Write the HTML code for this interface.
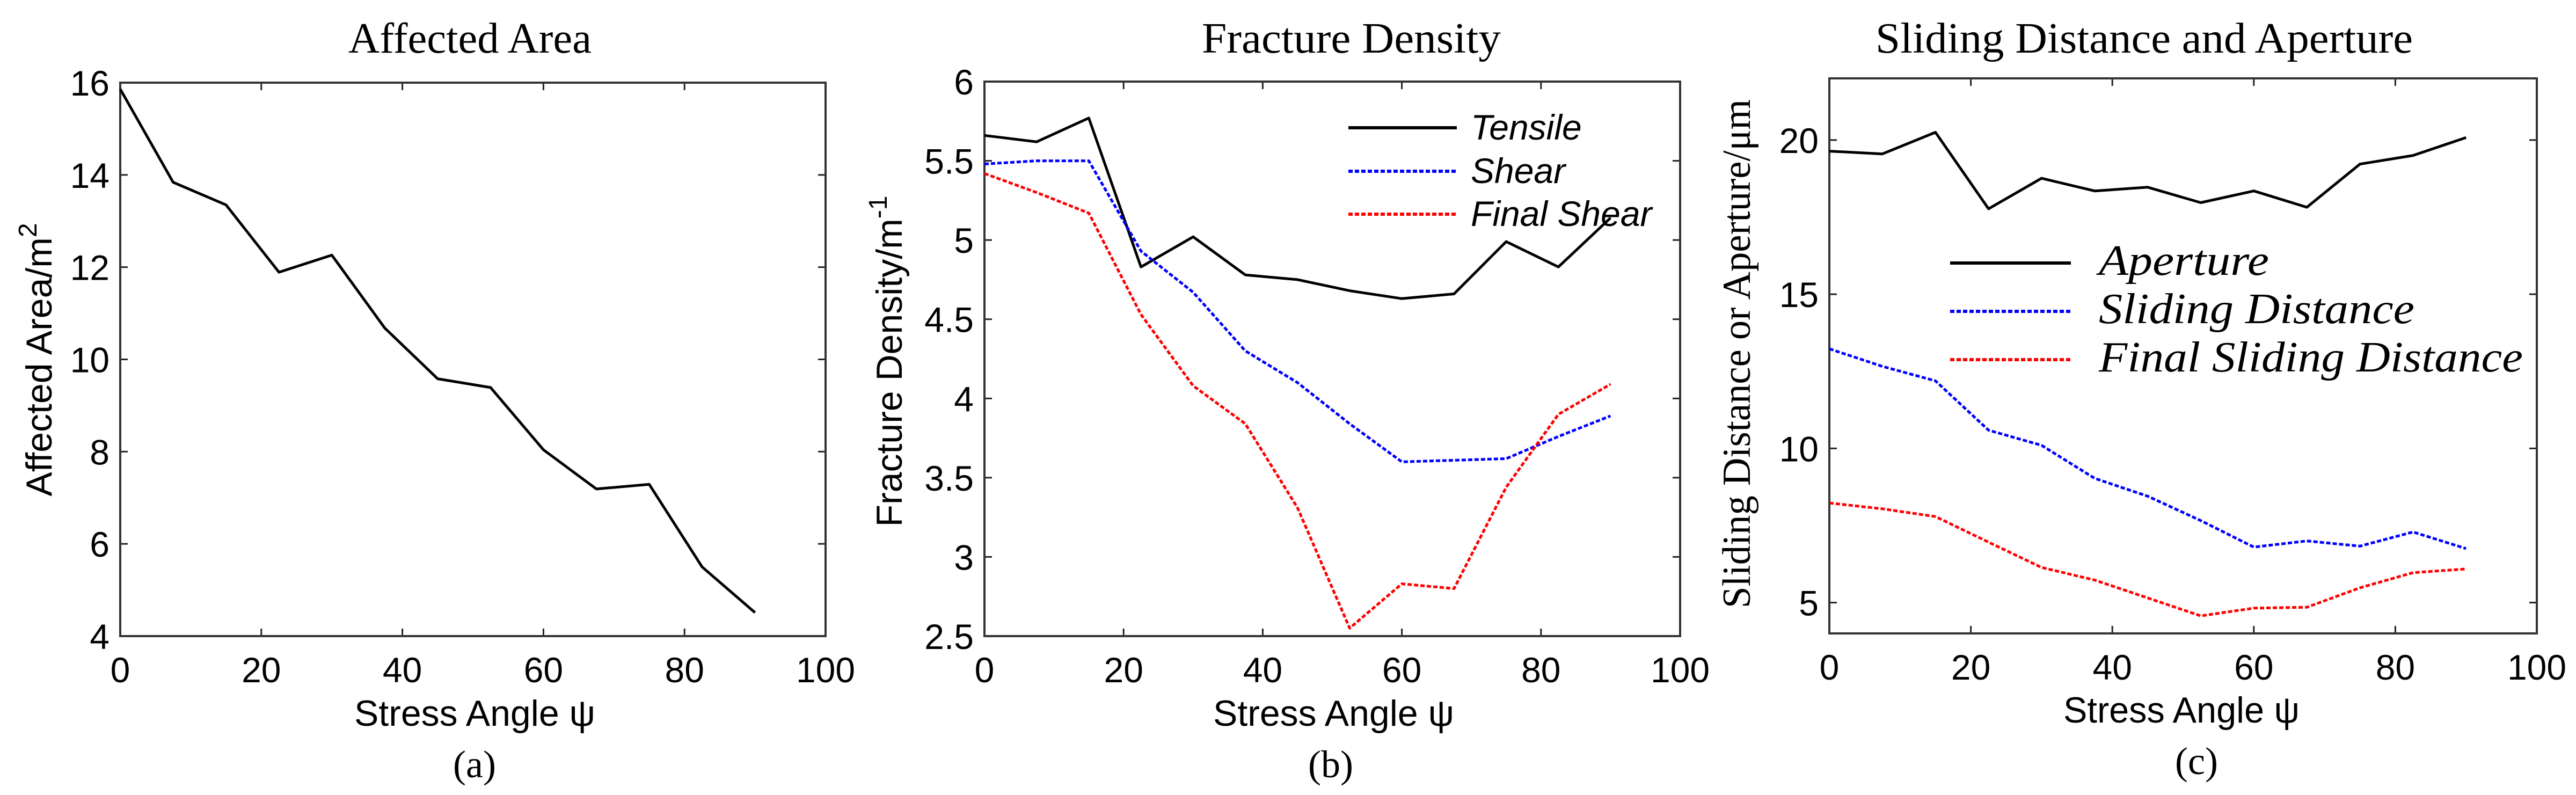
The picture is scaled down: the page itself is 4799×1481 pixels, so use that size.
<!DOCTYPE html>
<html><head><meta charset="utf-8">
<style>
html,body{margin:0;padding:0;background:#fff;}
svg{display:block;}
.tk{font-family:"Liberation Sans",Arial,sans-serif;font-size:66px;fill:#000;}
.ser{font-family:"Liberation Serif","DejaVu Serif",serif;fill:#000;}
</style></head>
<body>
<svg id="fig" xmlns="http://www.w3.org/2000/svg" width="4799" height="1481" viewBox="0 0 4799 1481"></svg>
<script>
// ---- data ----
const angles = [0,7.5,15,22.5,30,37.5,45,52.5,60,67.5,75,82.5,90];
const xTicks = [0,20,40,60,80,100];
const affectedArea = [15.86,13.84,13.35,11.89,12.26,10.68,9.58,9.39,8.04,7.19,7.29,5.5,4.51];
const areaTicks = [4,6,8,10,12,14,16];
const tensile = [5.66,5.62,5.77,4.83,5.02,4.78,4.75,4.68,4.63,4.66,4.99,4.83,5.14];
const shear = [5.48,5.50,5.50,4.93,4.67,4.30,4.10,3.84,3.60,3.61,3.62,3.76,3.89];
const finalShear = [5.42,5.30,5.17,4.53,4.08,3.84,3.31,2.55,2.83,2.80,3.44,3.90,4.09];
const densityTicks = [2.5,3,3.5,4,4.5,5,5.5,6];
const aperture = [19.64,19.55,20.25,17.77,18.76,18.35,18.47,17.97,18.35,17.82,19.22,19.50,20.08];
const sliding = [13.23,12.66,12.19,10.59,10.10,9.03,8.45,7.66,6.80,7.00,6.83,7.29,6.75];
const finalSliding = [8.23,8.04,7.79,6.96,6.14,5.73,5.15,4.57,4.82,4.85,5.48,5.97,6.09];
const slidingTicks = [5,10,15,20];

const NS="http://www.w3.org/2000/svg";
const svg=document.getElementById('fig');
function mk(tag,attrs,parent){const e=document.createElementNS(NS,tag);for(const k in attrs)e.setAttribute(k,attrs[k]);(parent||svg).appendChild(e);return e;}

function panel(o){
  const g=mk('g',{});
  
  
  const sx=v=>o.L+(v-o.xmin)/(o.xmax-o.xmin)*(o.R-o.L);
  const sy=v=>o.B-(v-o.ymin)/(o.ymax-o.ymin)*(o.B-o.T);
  xTicks.forEach(t=>{
    const x=sx(t);
    mk('line',{x1:x,x2:x,y1:o.B,y2:o.B-14,stroke:'#222','stroke-width':3},g);
    mk('line',{x1:x,x2:x,y1:o.T,y2:o.T+14,stroke:'#222','stroke-width':3},g);
    const tx=mk('text',{x:x,y:o.B+86,'text-anchor':'middle',class:'tk'},g);
    tx.textContent=t;
    
    
  });
  o.yticks.forEach(t=>{
    const y=sy(t);
    mk('line',{x1:o.L,x2:o.L+14,y1:y,y2:y,stroke:'#222','stroke-width':3},g);
    mk('line',{x1:o.R,x2:o.R-14,y1:y,y2:y,stroke:'#222','stroke-width':3},g);
    const tx=mk('text',{x:o.L-20,y:y+24,'text-anchor':'end',class:'tk'},g);
    tx.textContent=t;
    
    
  });
  const box=mk('rect',{x:o.L,y:o.T,width:o.R-o.L,height:o.B-o.T,fill:'none',stroke:'#333','stroke-width':4},g);
  
  
  o.series.forEach(s=>{
    const pts=angles.map((a,i)=>sx(a).toFixed(1)+','+sy(s.data[i]).toFixed(1)).join(' ');
    const p=mk('polyline',{points:pts,fill:'none',stroke:s.color,'stroke-width':5,'stroke-linejoin':'round'},g);
    if(s.dash)p.setAttribute('stroke-dasharray',s.dash);
    
    
  });
  return g;
}

panel({name:'affected-area-chart',L:224,R:1538,T:154,B:1185,xmin:0,xmax:100,ymin:4,ymax:16,yticks:areaTicks,
  series:[{name:'affected-area-line',data:affectedArea,color:'#000'}]});
panel({name:'fracture-density-chart',L:1834,R:3130,T:152,B:1185,xmin:0,xmax:100,ymin:2.5,ymax:6,yticks:densityTicks,
  series:[{name:'tensile-line',data:tensile,color:'#000'},
          {name:'shear-line',data:shear,color:'#0000ff',dash:'8,4'},
          {name:'final-shear-line',data:finalShear,color:'#ff0000',dash:'8,4'}]});
panel({name:'sliding-aperture-chart',L:3408,R:4726,T:146,B:1180,xmin:0,xmax:100,ymin:4,ymax:22,yticks:slidingTicks,
  series:[{name:'aperture-line',data:aperture,color:'#000'},
          {name:'sliding-distance-line',data:sliding,color:'#0000ff',dash:'8,4'},
          {name:'final-sliding-distance-line',data:finalSliding,color:'#ff0000',dash:'8,4'}]});

function legend(items,x1,x2,tx,ys,cls,fs,name){
  const g=mk('g',{});
  
  
  items.forEach((it,i)=>{
    const l=mk('line',{x1:x1,x2:x2,y1:ys[i],y2:ys[i],stroke:it.c,'stroke-width':6},g);
    if(it.d)l.setAttribute('stroke-dasharray',it.d);
    const t=mk('text',{x:tx,y:ys[i]+22,'font-style':'italic','font-size':fs,class:cls},g);
    if(it.w){t.setAttribute('textLength',it.w);t.setAttribute('lengthAdjust','spacingAndGlyphs');}
    t.textContent=it.t;
    
    
  });
}
legend([{t:'Tensile',c:'#000'},{t:'Shear',c:'#0000ff',d:'8,4'},{t:'Final Shear',c:'#ff0000',d:'8,4'}],
  2512,2714,2740,[238,319,399],'tk',66,'fracture-legend');
legend([{t:'Aperture',c:'#000',w:317},{t:'Sliding Distance',c:'#0000ff',d:'8,4',w:588},{t:'Final Sliding Distance',c:'#ff0000',d:'8,4',w:790}],
  3633,3858,3910,[490,580,670],'ser',80,'sliding-legend');
</script>

<svg style="position:absolute;left:0;top:0" width="4799" height="1481" xmlns="http://www.w3.org/2000/svg">
  <g font-family="Liberation Serif, DejaVu Serif, serif" font-size="80" fill="#000">
    <text x="649" y="98" textLength="453" lengthAdjust="spacingAndGlyphs">Affected Area</text>
    <text x="2239" y="98" textLength="557" lengthAdjust="spacingAndGlyphs">Fracture Density</text>
    <text x="3494" y="98" textLength="1001" lengthAdjust="spacingAndGlyphs">Sliding Distance and Aperture</text>
  </g>
  <g font-family="Liberation Sans, Arial, sans-serif" font-size="68" fill="#000">
    <text x="660" y="1352" textLength="449" lengthAdjust="spacingAndGlyphs">Stress Angle ψ</text>
    <text x="2260" y="1352" textLength="449" lengthAdjust="spacingAndGlyphs">Stress Angle ψ</text>
    <text x="3844" y="1346" textLength="440" lengthAdjust="spacingAndGlyphs">Stress Angle ψ</text>
    <text transform="translate(96,670) rotate(-90)" text-anchor="middle">Affected Area/m<tspan dy="-28" font-size="48">2</tspan></text>
    <text transform="translate(1680,673) rotate(-90)" text-anchor="middle">Fracture Density/m<tspan dy="-28" font-size="48">-1</tspan></text>
  </g>
  <text transform="translate(3260,1133) rotate(-90)" textLength="948" lengthAdjust="spacingAndGlyphs" font-family="Liberation Serif, DejaVu Serif, serif" font-size="74" fill="#000">Sliding Distance or Aperture/μm</text>
  <g font-family="Liberation Serif, DejaVu Serif, serif" font-size="72" fill="#000">
    <text x="884" y="1448" text-anchor="middle">(a)</text>
    <text x="2479" y="1448" text-anchor="middle">(b)</text>
    <text x="4092" y="1442" text-anchor="middle">(c)</text>
  </g>
</svg>
</body></html>
